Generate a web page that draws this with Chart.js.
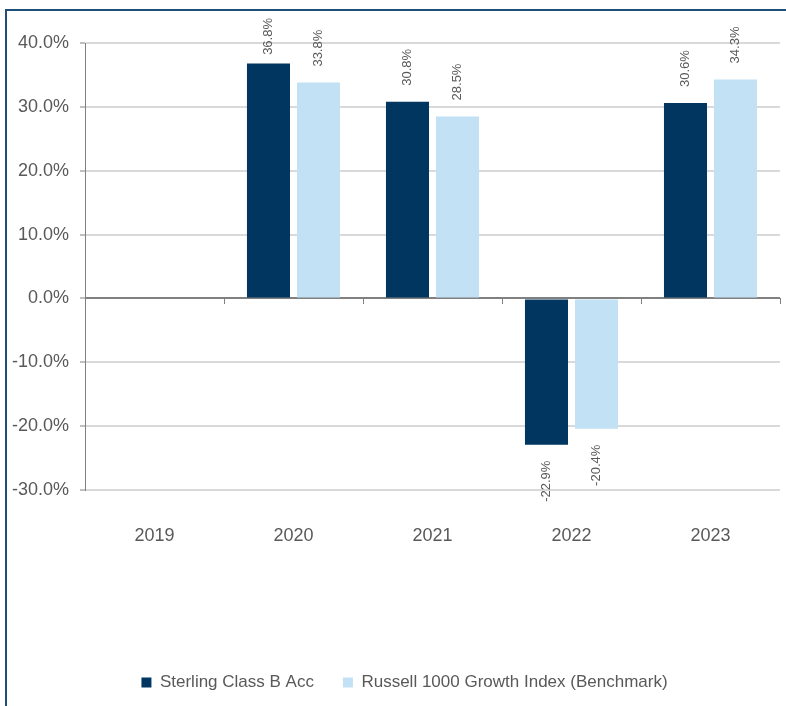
<!DOCTYPE html>
<html><head><meta charset="utf-8">
<script src="https://cdn.jsdelivr.net/npm/chart.js@4"></script>
<style>
html,body{margin:0;padding:0;background:#fff;overflow:hidden;width:786px;height:706px;}
#wrap{position:absolute;left:0;top:0;width:815px;height:706px;}
#frame{position:absolute;left:5px;top:9px;width:900px;height:900px;border-left:2px solid #1f4e79;border-top:2px solid #1f4e79;pointer-events:none;}
</style></head><body>
<div id="wrap"><canvas id="c" width="815" height="706"></canvas></div>
<div id="frame"></div>
<script>
const categories = ['2019', '2020', '2021', '2022', '2023'];
const seriesNames = ['Sterling Class B Acc', 'Russell 1000 Growth Index (Benchmark)'];
const sterlingValues = [null, 36.8, 30.8, -22.9, 30.6];
const russellValues = [null, 33.8, 28.5, -20.4, 34.3];
const yTickMin = -30, yTickMax = 40, yTickStep = 10;

const FONT = '"Liberation Sans", Arial, sans-serif';
const TEXT = '#595959';
Chart.defaults.font.family = FONT;
Chart.defaults.color = TEXT;

const dataLabels = {
  id: 'dataLabels',
  afterDatasetsDraw(chart) {
    const ctx = chart.ctx;
    ctx.save();
    ctx.font = '13px ' + FONT;
    ctx.fillStyle = TEXT;
    ctx.textBaseline = 'middle';
    chart.data.datasets.forEach((ds, di) => {
      const meta = chart.getDatasetMeta(di);
      meta.data.forEach((el, i) => {
        const v = ds.data[i];
        if (v === null || v === undefined) return;
        const txt = v.toFixed(1) + '%';
        const w = ctx.measureText(txt).width;
        ctx.save();
        ctx.translate(el.x, el.y);
        ctx.rotate(-Math.PI / 2);
        if (v >= 0) {
          const off = Math.min(16, el.y - 18 - w);
          ctx.textAlign = 'left';
          ctx.fillText(txt, off, 0);
        } else {
          ctx.textAlign = 'right';
          ctx.fillText(txt, -16, 0);
        }
        ctx.restore();
      });
    });
    ctx.restore();
  }
};

const zeroTicks = {
  id: 'zeroTicks',
  afterDatasetsDraw(chart) {
    const ctx = chart.ctx;
    const xs = chart.scales.x, ys = chart.scales.y;
    const y0 = Math.round(ys.getPixelForValue(0));
    const n = categories.length;
    ctx.save();
    ctx.strokeStyle = '#808080';
    ctx.lineWidth = 1;
    for (let i = 0; i <= n; i++) {
      let x;
      if (i === 0) x = chart.chartArea.left;
      else if (i === n) x = chart.chartArea.right;
      else x = (xs.getPixelForValue(i - 1) + xs.getPixelForValue(i)) / 2;
      x = Math.round(x) + 0.5;
      ctx.beginPath();
      ctx.moveTo(x, y0);
      ctx.lineTo(x, y0 + 6);
      ctx.stroke();
    }
    ctx.restore();
  }
};

new Chart(document.getElementById('c'), {
  type: 'bar',
  data: {
    labels: categories,
    datasets: [
      { label: seriesNames[0], data: sterlingValues, backgroundColor: '#00365f', borderWidth: 0,
        categoryPercentage: 0.72, barPercentage: 0.86 },
      { label: seriesNames[1], data: russellValues, backgroundColor: '#c2e1f5', borderWidth: 0,
        categoryPercentage: 0.72, barPercentage: 0.86 }
    ]
  },
  options: {
    responsive: false,
    devicePixelRatio: 1,
    animation: false,
    layout: { padding: { left: 0, right: 6, top: 43, bottom: 5 } },
    plugins: {
      tooltip: { enabled: false },
      legend: {
        position: 'bottom',
        labels: { font: { size: 17 }, color: TEXT, boxWidth: 10, boxHeight: 10, padding: 29 }
      }
    },
    scales: {
      x: {
        grid: { display: false, drawTicks: false },
        border: { display: false },
        ticks: { font: { size: 18 }, color: TEXT, padding: 35 },
        afterFit(s) { s.height = 155; }
      },
      y: {
        min: yTickMin, max: yTickMax,
        ticks: { stepSize: yTickStep, font: { size: 18 }, color: TEXT, padding: 11,
          callback: v => v.toFixed(1) + '%' },
        grid: {
          color: c => (c.tick && c.tick.value === 0) ? '#808080' : '#d9d9d9',
          lineWidth: 2,
          tickColor: '#808080',
          tickLength: 5,
          tickWidth: 1
        },
        border: { display: true, color: '#808080', width: 1 },
        afterFit(s) { s.width = 85; }
      },
      yRightSpacer: {
        position: 'right',
        display: true,
        ticks: { display: false },
        grid: { display: false, drawTicks: false },
        border: { display: false },
        afterFit(s) { s.width = 29; }
      }
    }
  },
  plugins: [dataLabels, zeroTicks]
});
</script>
</body></html>
